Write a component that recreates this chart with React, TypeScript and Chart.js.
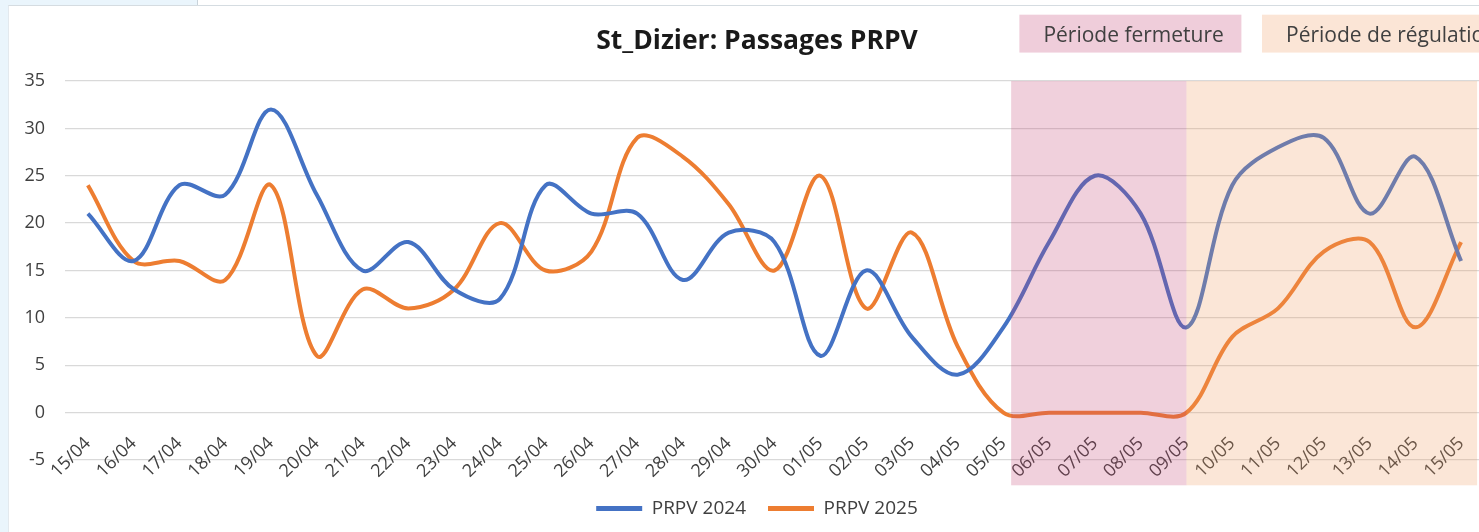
import React, { useEffect, useRef } from "react";
import { Chart, registerables } from "chart.js";

Chart.register(...registerables);

const categories = [
  "15/04", "16/04", "17/04", "18/04", "19/04", "20/04", "21/04", "22/04", "23/04", "24/04",
  "25/04", "26/04", "27/04", "28/04", "29/04", "30/04",
  "01/05", "02/05", "03/05", "04/05", "05/05", "06/05", "07/05", "08/05", "09/05",
  "10/05", "11/05", "12/05", "13/05", "14/05", "15/05",
];

const prpv2024 = [21, 16, 24, 23, 32, 23, 15, 18, 13, 12, 24, 21, 21, 14, 19, 18, 6, 15, 8, 4, 9, 18, 25, 21, 9, 24, 28, 29, 21, 27, 16];
const prpv2025 = [24, 16, 16, 14, 24, 6, 13, 11, 13, 20, 15, 17, 29, 27, 22, 15, 25, 11, 19, 7, 0, 0, 0, 0, 0, 8, 11, 17, 18, 9, 18];

const seriesNames = ["PRPV 2024", "PRPV 2025"];
const titleText = "St_Dizier: Passages PRPV";

const yMin = -5;
const yMax = 35;
const yStep = 5;

// Shaded periods, expressed in category-index units and axis values
const periodLabels = ["Période fermeture", "Période de régulation"];
const periodFrom = [20.17, 24];
const periodTo = [24, 30.35];
const periodBoxFrom = [20.35, 25.65];
const periodBoxTo = [25.2, 32];
const shadeTop = 35;
const shadeBottom = -7.67;
const boxTop = 42;
const boxBottom = 38;

const BLUE = "#4472C4";
const ORANGE = "#ED7D31";
const shadeColors = ["rgba(196,68,116,0.25)", "rgba(240,156,96,0.25)"];
const boxColors = ["#EFCDDA", "#FBE5D6"];

const FONT = "'Open Sans', 'DejaVu Sans', sans-serif";

const noLabelClip = {
  id: "noLabelClip",
  afterLayout(chart: any) {
    for (const id of Object.keys(chart.scales)) {
      chart.scales[id]._computeLabelArea = () => undefined;
    }
  },
};

const periodPlugin = {
  id: "periods",
  afterDraw(chart: any) {
    const { ctx } = chart;
    const x = chart.scales.x;
    const y = chart.scales.y;
    ctx.save();
    for (let i = 0; i < periodLabels.length; i++) {
      const x0 = x.getPixelForValue(periodFrom[i]);
      const x1 = x.getPixelForValue(periodTo[i]);
      const y0 = y.getPixelForValue(shadeTop);
      const y1 = y.getPixelForValue(shadeBottom);
      ctx.fillStyle = shadeColors[i];
      ctx.fillRect(x0, y0, x1 - x0, y1 - y0);

      const bx0 = x.getPixelForValue(periodBoxFrom[i]);
      const bx1 = x.getPixelForValue(periodBoxTo[i]);
      const by0 = y.getPixelForValue(boxTop);
      const by1 = y.getPixelForValue(boxBottom);
      ctx.fillStyle = boxColors[i];
      ctx.fillRect(bx0, by0, bx1 - bx0, by1 - by0);
      ctx.fillStyle = "#404040";
      ctx.font = `21px ${FONT}`;
      ctx.textBaseline = "middle";
      ctx.textAlign = "left";
      ctx.fillText(periodLabels[i], bx0 + 24, (by0 + by1) / 2 + 2);
    }
    ctx.restore();
  },
};

export default function App() {
  const canvasRef = useRef<HTMLCanvasElement | null>(null);

  useEffect(() => {
    const canvas = canvasRef.current;
    if (!canvas) return;
    const chart = new Chart(canvas, {
      type: "line",
      data: {
        labels: categories,
        datasets: [
          {
            label: seriesNames[0],
            data: prpv2024,
            borderColor: BLUE,
            backgroundColor: BLUE,
            borderWidth: 4,
            pointRadius: 0,
            tension: 0.35,
            fill: false,
          },
          {
            label: seriesNames[1],
            data: prpv2025,
            borderColor: ORANGE,
            backgroundColor: ORANGE,
            borderWidth: 4,
            pointRadius: 0,
            tension: 0.35,
            fill: false,
          },
        ],
      },
      options: {
        responsive: false,
        animation: false,
        devicePixelRatio: 1,
        layout: { padding: { left: 22, right: 14, top: 0, bottom: 4 } },
        plugins: {
          title: {
            display: true,
            text: titleText,
            color: "#1a1a1a",
            font: { family: FONT, size: 26.5, weight: "bold", lineHeight: 1.2 },
            padding: { top: 20, bottom: 23.2 },
          },
          legend: {
            display: true,
            position: "bottom",
            labels: {
              boxWidth: 46,
              boxHeight: 5,
              color: "#404040",
              font: { family: FONT, size: 19 },
              padding: 22,
              generateLabels: (ch: any) =>
                Chart.defaults.plugins.legend.labels.generateLabels(ch).map((it: any) => ({
                  ...it,
                  lineWidth: 0,
                })),
            },
          },
          tooltip: { enabled: false },
        },
        scales: {
          x: {
            offset: true,
            grid: { display: false, drawTicks: false },
            border: { display: false },
            ticks: {
              autoSkip: false,
              minRotation: 45,
              maxRotation: 45,
              padding: -27,
              color: "#404040",
              font: { family: FONT, size: 18 },
            },
            afterFit: (s: any) => {
              s.height = 17;
            },
          },
          y: {
            min: yMin,
            max: yMax,
            ticks: {
              stepSize: yStep,
              padding: 20,
              color: "#404040",
              font: { family: FONT, size: 18 },
            },
            grid: { color: "#D9D9D9", lineWidth: 1.3, drawTicks: false },
            border: { display: false },
            afterFit: (s: any) => {
              s.width = 35;
            },
          },
        },
      },
      plugins: [noLabelClip, periodPlugin],
    });
    return () => chart.destroy();
  }, []);

  return (
    <div style={{ position: "fixed", inset: 0, overflow: "hidden", background: "#EAF5FC" }}>
      <div style={{ position: "absolute", left: 198, top: 0, right: 0, height: 5, background: "#fff" }} />
      <div style={{ position: "absolute", left: 197, top: 0, width: 1, height: 5, background: "#C9D3DA" }} />
      <div
        style={{
          position: "absolute",
          left: 8,
          top: 5,
          right: 0,
          bottom: 0,
          background: "#fff",
          borderTop: "1px solid #D5DCE1",
          borderLeft: "1px solid #E3E9EE",
        }}
      />
      <canvas
        ref={canvasRef}
        width={1490}
        height={526}
        style={{ position: "absolute", left: 8, top: 6, width: 1490, height: 526 }}
      />
    </div>
  );
}
